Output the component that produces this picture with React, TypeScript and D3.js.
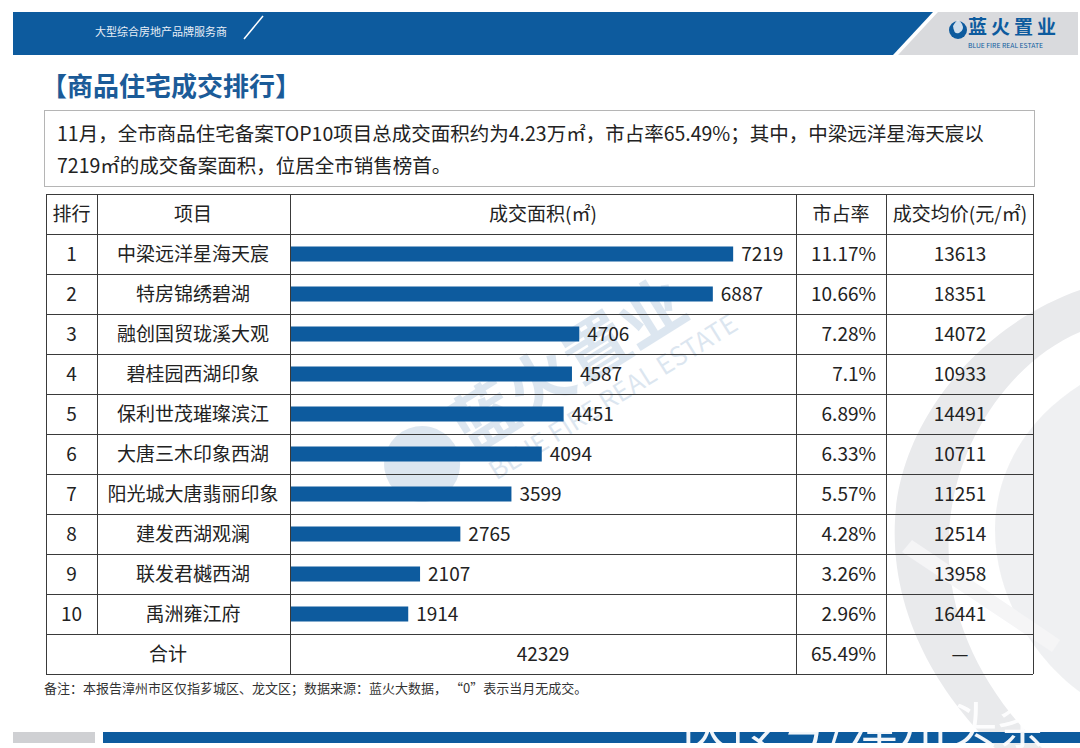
import React from "react";
import * as d3 from "d3";

const ranks = ["1", "2", "3", "4", "5", "6", "7", "8", "9", "10"];
const projects = [
  "中梁远洋星海天宸",
  "特房锦绣碧湖",
  "融创国贸珑溪大观",
  "碧桂园西湖印象",
  "保利世茂璀璨滨江",
  "大唐三木印象西湖",
  "阳光城大唐翡丽印象",
  "建发西湖观澜",
  "联发君樾西湖",
  "禹洲雍江府",
];
const areas = [7219, 6887, 4706, 4587, 4451, 4094, 3599, 2765, 2107, 1914];
const shares = ["11.17%", "10.66%", "7.28%", "7.1%", "6.89%", "6.33%", "5.57%", "4.28%", "3.26%", "2.96%"];
const prices = ["13613", "18351", "14072", "10933", "14491", "10711", "11251", "12514", "13958", "16441"];
const headers = ["排行", "项目", "成交面积(㎡)", "市占率", "成交均价(元/㎡)"];
const totalLabel = "合计";
const totalArea = "42329";
const totalShare = "65.49%";
const totalPrice = "—";

const BLUE = "#0d5b9e";
const FONT = "'Noto Sans CJK SC', 'Noto Sans', sans-serif";
const DY = -2;

export default function App() {
  const colX = [46, 97, 290, 796, 886, 1033];
  const headerTop = 194;
  const rowH = 40;
  const rowTops = ranks.map((_, i) => headerTop + rowH * (i + 1));
  const totalTop = headerTop + rowH * (ranks.length + 1);
  const tableBottom = totalTop + rowH;

  const x = d3.scaleLinear().domain([0, 8000]).range([291, 781]);
  const y = d3
    .scaleBand<string>()
    .domain(projects)
    .range([headerTop + rowH, headerTop + rowH * (projects.length + 1)])
    .paddingInner(0.625)
    .paddingOuter(0.3125);

  const hLines = [headerTop, headerTop + rowH, ...rowTops.map((t) => t + rowH)];

  return (
    <svg width={1080} height={748} style={{ position: "absolute", left: 0, top: 0, display: "block" }} fontFamily={FONT}>
      <rect x={0} y={0} width={1080} height={748} fill="#ffffff" />

      {/* right-bottom faint flame watermark */}
      <g fill="#e7e8eb" opacity={0.9}>
        <path d="M1080,290 C980,325 900,420 895,520 C890,620 945,700 995,748 L1042,748 C982,690 940,610 950,520 C960,430 1018,358 1080,332 Z" />
        <path d="M1080,385 C1028,418 995,470 995,530 C995,600 1038,662 1080,692 Z" opacity={0.7} />
        <path d="M912,540 L1060,640 L1052,652 L902,552 Z" fill="#f4f4f6" />
      </g>

      {/* center watermark */}
      <g transform="translate(470,420) rotate(-32)" opacity={0.15}>
        <circle cx={-64} cy={12} r={38} fill="#1d5f9f" />
        <text x={-20} y={0} fontSize={66} fontWeight={700} fill="#1d5f9f" dominantBaseline="central">蓝火置业</text>
        <text x={-10} y={54} fontSize={26} fill="#1d5f9f" dominantBaseline="central">BLUE FIRE REAL ESTATE</text>
      </g>

      {/* banner */}
      <polygon points="13,12 933,12 893,55 13,55" fill={BLUE} />
      <polygon points="938,12 1078,12 1078,55 898,55" fill="#d9dadd" />
      <text x={95} y={31} fontSize={11} fill="#e8eef6" dominantBaseline="central">大型综合房地产品牌服务商</text>
      <line x1={263} y1={16} x2={244} y2={39} stroke="#ffffff" strokeWidth={1.5} />
      <g>
        <circle cx={958} cy={30} r={9} fill={BLUE} />
        <path d="M953,26 q5,-10 9,-2 q3,6 -3,9 q-5,2 -6,-7 Z" fill="#ffffff" opacity={0.8} />
        <text x={968} y={25} fontSize={19} fontWeight={700} fill={BLUE} letterSpacing={4} dominantBaseline="central">蓝火置业</text>
        <text x={968} y={44.5} fontSize={6.8} fill={BLUE} dominantBaseline="central">BLUE FIRE REAL ESTATE</text>
      </g>

      {/* title */}
      <text x={41} y={86 + DY} fontSize={26} fontWeight={700} fill="#1b5b98" dominantBaseline="central">【商品住宅成交排行】</text>

      {/* summary box */}
      <rect x={44.5} y={110.5} width={990} height={76} fill="none" stroke="#b5b5b5" strokeWidth={1} />
      <text x={57} y={134 + DY} fontSize={19.5} fill="#222" dominantBaseline="central">
        11月，全市商品住宅备案TOP10项目总成交面积约为4.23万㎡，市占率65.49%；其中，中梁远洋星海天宸以
      </text>
      <text x={57} y={166 + DY} fontSize={19.5} fill="#222" dominantBaseline="central">
        7219㎡的成交备案面积，位居全市销售榜首。
      </text>

      {/* table grid */}
      <g stroke="#3a3a3a" strokeWidth={1} shapeRendering="crispEdges">
        {hLines.map((ly, i) => (
          <line key={"h" + i} x1={colX[0]} x2={colX[5]} y1={ly + 0.5} y2={ly + 0.5} />
        ))}
        <line x1={colX[0]} x2={colX[5]} y1={tableBottom + 0.5} y2={tableBottom + 0.5} />
        {colX.map((cx, i) => (
          <line
            key={"v" + i}
            x1={cx + 0.5}
            x2={cx + 0.5}
            y1={headerTop}
            y2={i === 1 ? totalTop : tableBottom}
          />
        ))}
      </g>

      {/* header */}
      <g fontSize={19} fill="#222">
        <text x={71.5} y={headerTop + 20 + DY} textAnchor="middle" dominantBaseline="central">{headers[0]}</text>
        <text x={193} y={headerTop + 20 + DY} textAnchor="middle" dominantBaseline="central">{headers[1]}</text>
        <text x={543} y={headerTop + 20 + DY} textAnchor="middle" dominantBaseline="central">{headers[2]}</text>
        <text x={841} y={headerTop + 20 + DY} textAnchor="middle" dominantBaseline="central">{headers[3]}</text>
        <text x={960} y={headerTop + 20 + DY} textAnchor="middle" dominantBaseline="central">{headers[4]}</text>
      </g>

      {/* rows */}
      {projects.map((p, i) => {
        const cy = rowTops[i] + rowH / 2 + DY;
        const by = y(p) as number;
        return (
          <g key={p} fontSize={19} fill="#222">
            <text x={71.5} y={cy} textAnchor="middle" dominantBaseline="central">{ranks[i]}</text>
            <text x={193} y={cy} textAnchor="middle" dominantBaseline="central">{p}</text>
            <rect x={x(0)} y={by} width={x(areas[i]) - x(0)} height={y.bandwidth()} fill={BLUE} />
            <text x={x(areas[i]) + 8} y={cy} dominantBaseline="central">{areas[i]}</text>
            <text x={876} y={cy} textAnchor="end" dominantBaseline="central">{shares[i]}</text>
            <text x={960} y={cy} textAnchor="middle" dominantBaseline="central">{prices[i]}</text>
          </g>
        );
      })}

      {/* total */}
      <g fontSize={19} fill="#222">
        <text x={168} y={totalTop + 20 + DY} textAnchor="middle" dominantBaseline="central">{totalLabel}</text>
        <text x={543} y={totalTop + 20 + DY} textAnchor="middle" dominantBaseline="central">{totalArea}</text>
        <text x={876} y={totalTop + 20 + DY} textAnchor="end" dominantBaseline="central">{totalShare}</text>
        <text x={960} y={totalTop + 20 + DY} textAnchor="middle" dominantBaseline="central">{totalPrice}</text>
      </g>

      {/* note */}
      <text x={44} y={689 + DY} fontSize={13} fill="#333" dominantBaseline="central">
        备注：本报告漳州市区仅指芗城区、龙文区；数据来源：蓝火大数据， “0”表示当月无成交。
      </text>

      {/* bottom bars */}
      <rect x={13} y={732} width={82} height={11} fill="#cfd0d3" />
      <rect x={103} y={732} width={977} height={11} fill={BLUE} />

      {/* overlay watermark text */}
      <text x={678} y={722} fontSize={50} fill="#ffffff" dominantBaseline="central" opacity={0.95}>
        快传号/漳州头条
      </text>
    </svg>
  );
}
